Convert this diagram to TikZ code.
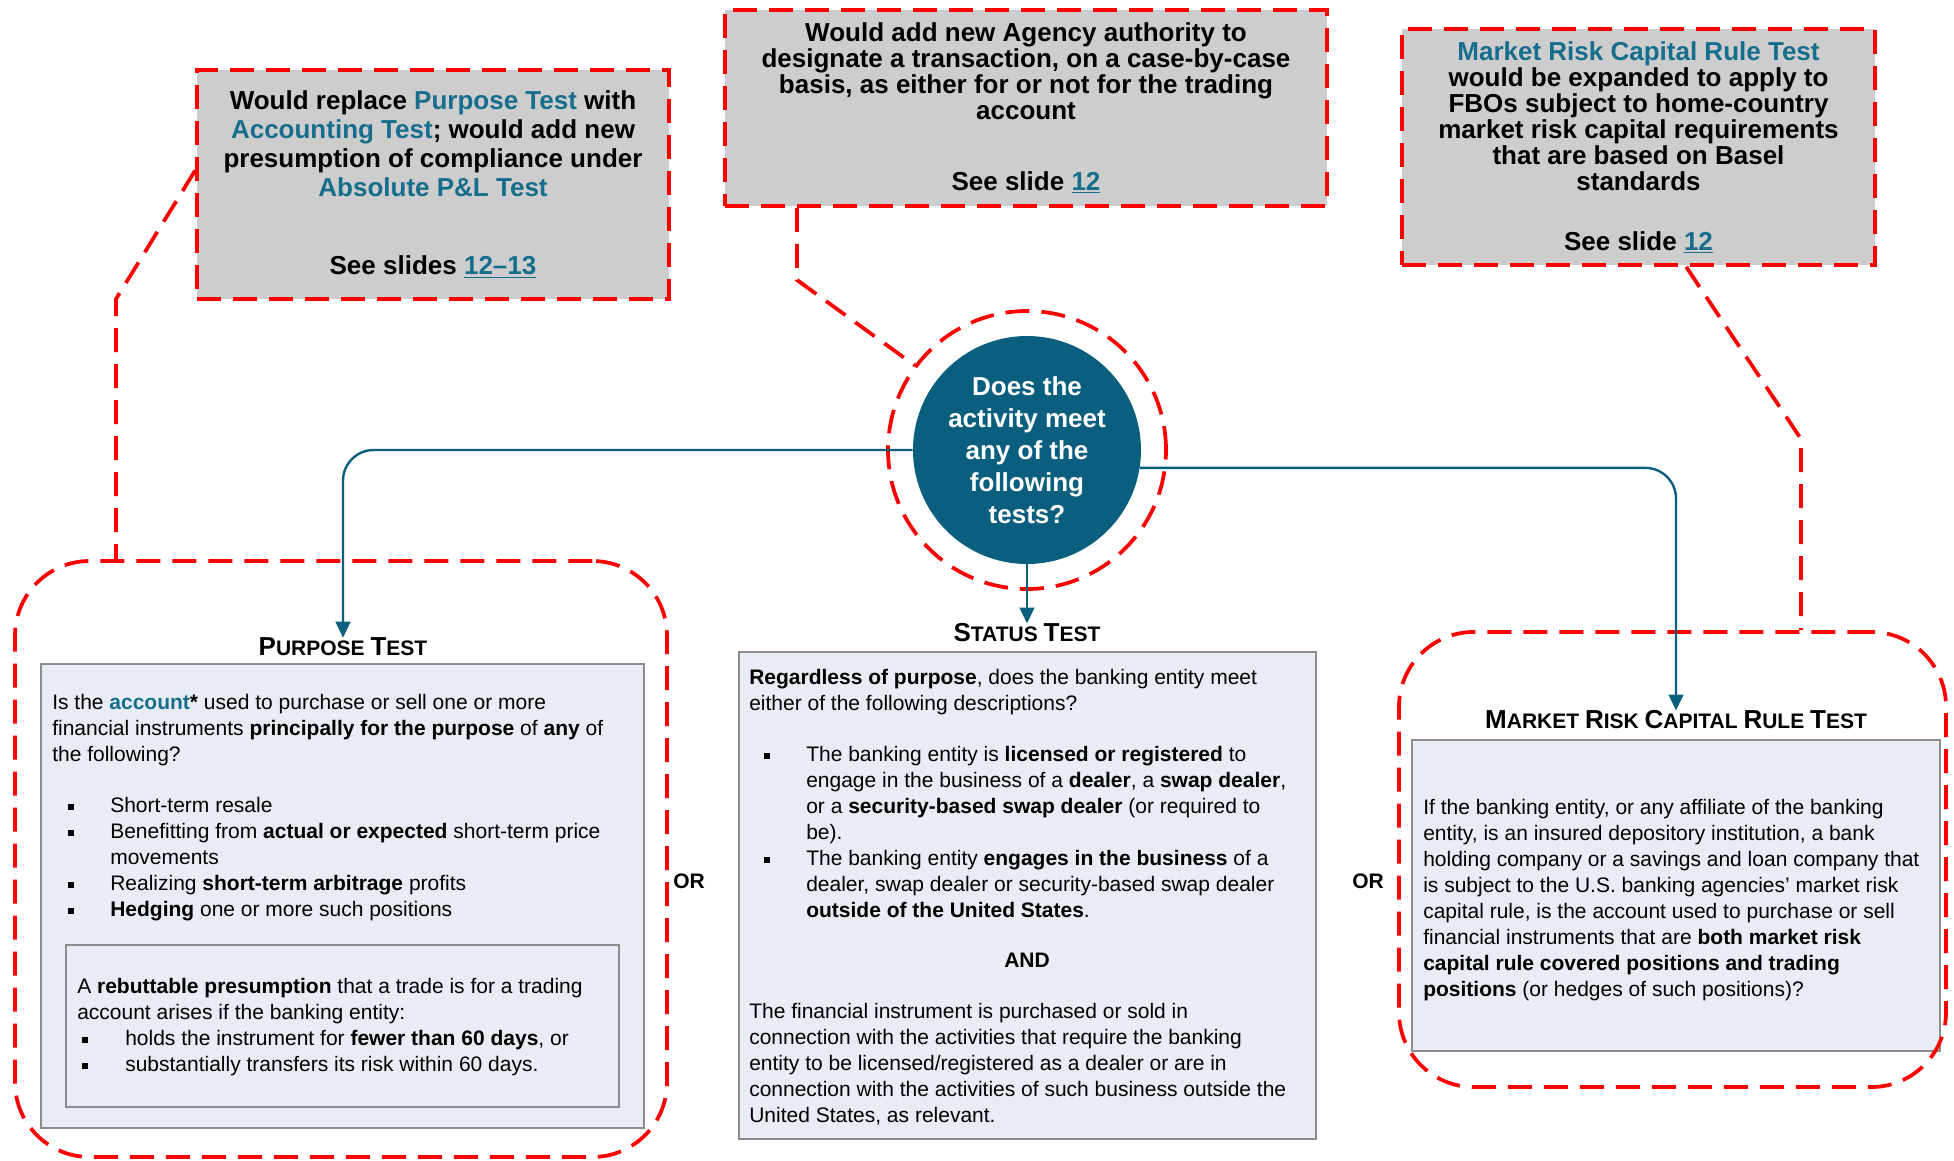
\documentclass[tikz,border=0pt]{standalone}
\usepackage{fontspec}
\setmainfont{Liberation Sans}
\usetikzlibrary{arrows.meta,calc}
\definecolor{hubteal}{RGB}{10,94,126}
\definecolor{linkteal}{RGB}{22,110,140}
\definecolor{calloutgray}{RGB}{205,205,205}
\definecolor{boxfill}{RGB}{232,236,245}
\definecolor{boxline}{RGB}{140,140,140}
\definecolor{alertred}{RGB}{255,0,0}
\newcommand{\lnk}[1]{\textcolor{linkteal}{#1}}
\newcommand{\slidelnk}[1]{\textcolor{linkteal}{\underline{#1}}}
\newcommand{\capword}[2]{{\fontsize{19.5}{19.5}\selectfont #1}{\fontsize{15.75}{15.75}\selectfont #2}}
\newcommand{\sqbul}[2]{\hspace*{#1}\makebox[#2][l]{\rule[2pt]{4.5pt}{4.5pt}}}
\tikzset{
	callout/.style={fill=calloutgray, draw=alertred, line width=2.8pt, dash pattern=on 18pt off 9pt, align=center, font=\bfseries\fontsize{19.5}{19.5}\selectfont},
	reddash/.style={draw=alertred, line width=2.8pt, dash pattern=on 18pt off 9pt},
	zone/.style={reddash, rounded corners=56pt},
	testbox/.style={fill=boxfill, draw=boxline, line width=1pt},
	testtitle/.style={font=\bfseries\fontsize{15.75}{19.5}\selectfont, inner sep=0pt},
	bodytext/.style={font=\fontsize{15.75}{19.5}\selectfont, align=left, anchor=north west, inner sep=0pt},
	flow/.style={draw=hubteal, line width=1.8pt, rounded corners=23pt, -{Triangle[length=12pt,width=11pt]}}
}
\begin{document}
\begin{tikzpicture}[x=0.75pt,y=0.75pt,yscale=-1,xscale=1]
	\useasboundingbox (0,0) rectangle (1954,1160);
	% callouts
	\node[callout, font=\bfseries\fontsize{19.5}{21.75}\selectfont, minimum width=354pt, minimum height=171.75pt] (callA) at (433,184.5) {Would replace \lnk{Purpose Test} with\\ \lnk{Accounting Test}; would add new\\ presumption of compliance under\\ \lnk{Absolute P\&L Test}\\[36.75pt] See slides \slidelnk{12–13}};
	\node[callout, minimum width=451.5pt, minimum height=147pt] (callB) at (1026,108) {Would add new Agency authority to\\ designate a transaction, on a case-by-case\\ basis, as either for or not for the trading\\ account\\[33.75pt] See slide \slidelnk{12}};
	\node[callout, minimum width=354.75pt, minimum height=177pt] (callC) at (1638.5,147) {\lnk{Market Risk Capital Rule Test}\\ would be expanded to apply to\\ FBOs subject to home-country\\ market risk capital requirements\\ that are based on Basel\\ standards\\[25.5pt] See slide \slidelnk{12}};
	% test boxes
	\node[testbox, minimum width=452.25pt, minimum height=348pt] (purposeBox) at (342.5,896) {};
	\node[testbox, minimum width=414.75pt, minimum height=121.5pt] (rebutBox) at (342.5,1026) {};
	\node[testbox, minimum width=432.75pt, minimum height=365.25pt] (statusBox) at (1027.5,895.5) {};
	\node[testbox, minimum width=396pt, minimum height=233.25pt] (mrcrBox) at (1676,895.5) {};
	\node[testtitle] (purposeT) at (343,647) {\capword{P}{URPOSE} \capword{T}{EST}};
	\node[testtitle] (statusT) at (1027,633) {\capword{S}{TATUS} \capword{T}{EST}};
	\node[testtitle] (mrcrT) at (1676,720) {\capword{M}{ARKET} \capword{R}{ISK} \capword{C}{APITAL} \capword{R}{ULE} \capword{T}{EST}};
	\node[bodytext] (purposeText) at (52,694) {Is the \textcolor{linkteal}{\textbf{account}}\textbf{*} used to purchase or sell one or more\\
		financial instruments \textbf{principally for the purpose} of \textbf{any} of\\
		the following?\\[18.75pt]
		\sqbul{12pt}{31.5pt}Short-term resale\\
		\sqbul{12pt}{31.5pt}Benefitting from \textbf{actual or expected} short-term price\\
		\hspace*{43.5pt}movements\\
		\sqbul{12pt}{31.5pt}Realizing \textbf{short-term arbitrage} profits\\
		\sqbul{12pt}{31.5pt}\textbf{Hedging} one or more such positions};
	\node[bodytext] (rebutText) at (77,978) {A \textbf{rebuttable presumption} that a trade is for a trading\\
		account arises if the banking entity:\\
		\sqbul{3.75pt}{32.25pt}holds the instrument for \textbf{fewer than 60 days}, or\\
		\sqbul{3.75pt}{32.25pt}substantially transfers its risk within 60 days.};
	\node[bodytext] (statusText) at (749,669) {\textbf{Regardless of purpose}, does the banking entity meet\\
		either of the following descriptions?\\[18.75pt]
		\sqbul{11.25pt}{31.5pt}The banking entity is \textbf{licensed or registered} to\\
		\hspace*{42.75pt}engage in the business of a \textbf{dealer}, a \textbf{swap dealer},\\
		\hspace*{42.75pt}or a \textbf{security-based swap dealer} (or required to\\
		\hspace*{42.75pt}be).\\
		\sqbul{11.25pt}{31.5pt}The banking entity \textbf{engages in the business} of a\\
		\hspace*{42.75pt}dealer, swap dealer or security-based swap dealer\\
		\hspace*{42.75pt}\textbf{outside of the United States}.};
	\node[font=\bfseries\fontsize{15.75}{19.5}\selectfont] (andLabel) at (1027,960) {AND};
	\node[bodytext] (statusMore) at (749,1003) {The financial instrument is purchased or sold in\\
		connection with the activities that require the banking\\
		entity to be licensed/registered as a dealer or are in\\
		connection with the activities of such business outside the\\
		United States, as relevant.};
	\node[bodytext] (mrcrText) at (1423,799) {If the banking entity, or any affiliate of the banking\\
		entity, is an insured depository institution, a bank\\
		holding company or a savings and loan company that\\
		is subject to the U.S. banking agencies’ market risk\\
		capital rule, is the account used to purchase or sell\\
		financial instruments that are \textbf{both market risk}\\
		\textbf{capital rule covered positions and trading}\\
		\textbf{positions} (or hedges of such positions)?};
	\node[font=\bfseries\fontsize{15.75}{19.5}\selectfont] (orLeft) at (689,881) {OR};
	\node[font=\bfseries\fontsize{15.75}{19.5}\selectfont] (orRight) at (1368,881) {OR};
	% dashed zones
	\node[zone, minimum width=489pt, minimum height=447pt] (purposeZone) at (341,859) {};
	\node[zone, minimum width=410.25pt, minimum height=341.25pt] (mrcrZone) at (1672.5,859.5) {};
	% hub
	\node[circle, reddash, minimum size=208.5pt] (ring) at (1027,450) {};
	\node[circle, fill=hubteal, minimum size=171pt, inner sep=0pt, text=white, align=center, font=\bfseries\fontsize{19.5}{24}\selectfont] (hub) at (1027,450) {Does the\\activity meet\\any of the\\following\\tests?};
	\draw[flow] (hub.west) -| (purposeT.north);
	\draw[flow] (hub.south) -- (statusT.north);
	\draw[flow] (hub.-9) -| (mrcrT.north);
	% callout leaders
	\coordinate (kneeA) at (116,299);
	\coordinate (kneeB) at (797,280);
	\coordinate (kneeC) at (1801,439);
	\draw[reddash] ($(callA.north west)!0.44!(callA.south west)$) -- (kneeA) -- (kneeA |- purposeZone.north);
	\draw[reddash] (kneeB |- callB.south) -- (kneeB) -- (ring.143);
	\draw[reddash] ($(callC.south west)!0.6!(callC.south east)$) -- (kneeC) -- (kneeC |- mrcrZone.north);
\end{tikzpicture}
\end{document}
